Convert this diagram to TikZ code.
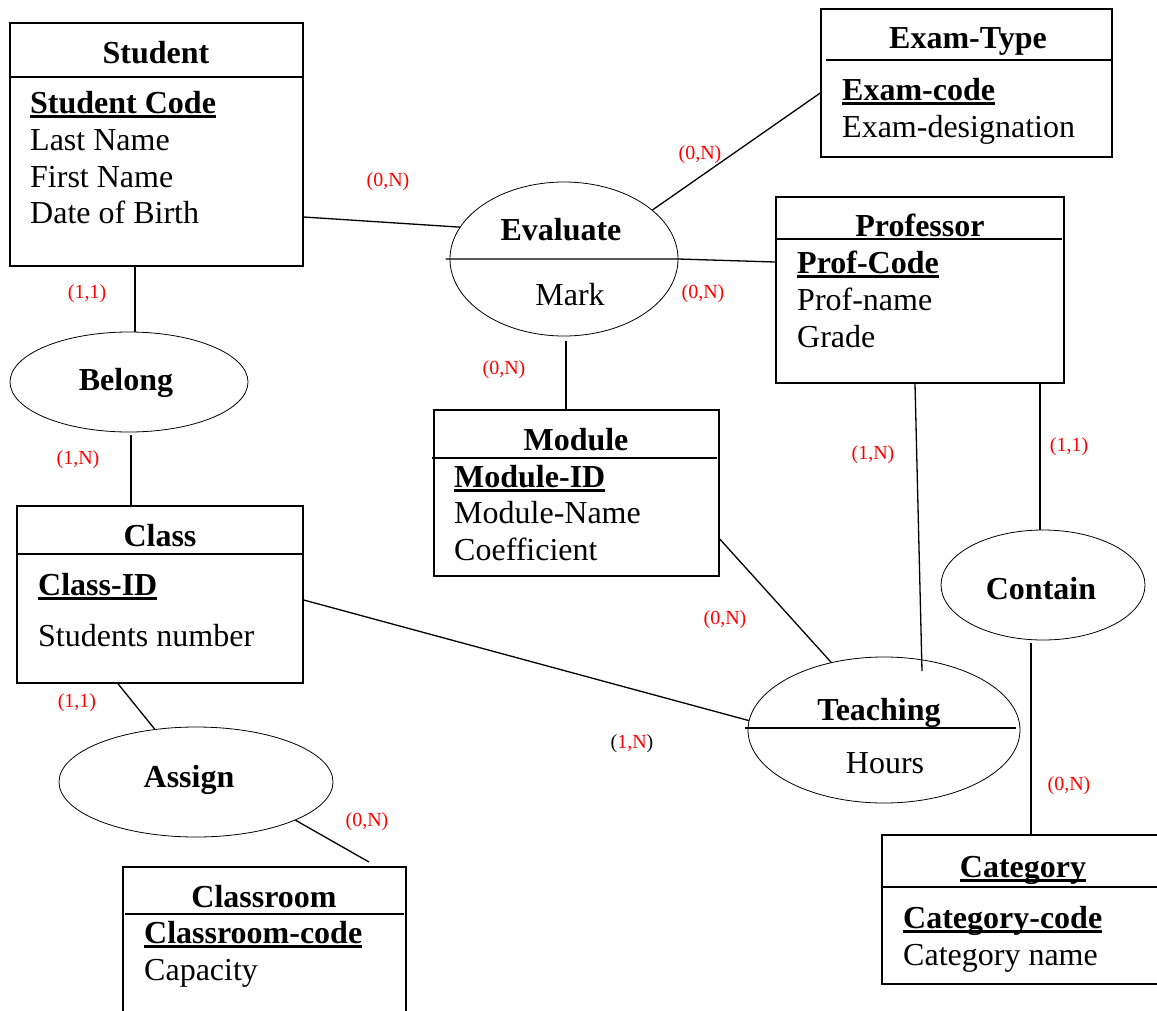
\documentclass[tikz,border=0pt]{standalone}
\usepackage{fontspec}
\setmainfont{Liberation Serif}
\usetikzlibrary{calc,shapes.geometric}

% underlined key attribute with a heavy rule
\newcommand\keyline[1]{\setbox0\hbox{#1}\rlap{\rule[-4.5pt]{\wd0}{2.6pt}}\box0}

\begin{document}
\begin{tikzpicture}[x=1pt,y=-1pt,
  entity/.style={draw, line width=1.5pt, rectangle, inner sep=0pt},
  relation/.style={draw, line width=0.8pt, ellipse, inner sep=0pt},
  hdr/.style={line width=1.5pt},
  link/.style={line width=1.3pt},
  title/.style={inner sep=0pt, anchor=base, font=\fontsize{32}{37}\selectfont\bfseries},
  attr/.style={inner sep=0pt, anchor=base west, font=\fontsize{32}{37}\selectfont},
  keyattr/.style={attr, font=\fontsize{32}{37}\selectfont\bfseries},
  rtext/.style={inner sep=0pt, anchor=base, font=\fontsize{32}{37}\selectfont},
  card/.style={inner sep=0pt, text=red, font=\fontsize{20}{22}\selectfont}
]
\useasboundingbox[fill=white] (0,0) rectangle (1157,1010);

% ---------- entities ----------
\node[entity, minimum width=293pt, minimum height=243pt] (student) at (156.5,144.5) {};
\draw[hdr] (student.west |- 0,77) -- (student.east |- 0,77);
\node[title] (studentT) at (156,63) {Student};
\node[keyattr] (studentA1) at (30,113) {\keyline{Student Code}};
\node[attr] (studentA2) at (30,150) {Last Name};
\node[attr] (studentA3) at (30,187) {First Name};
\node[attr] (studentA4) at (30,223) {Date of Birth};

\node[entity, minimum width=291pt, minimum height=148pt] (examtype) at (966.5,83) {};
\draw[hdr] (826,60) -- (1111,60);
\node[title] (examtypeT) at (968,48) {Exam-Type};
\node[keyattr] (examtypeA1) at (842,100) {\keyline{Exam-code}};
\node[attr] (examtypeA2) at (842,137) {Exam-designation};

\node[entity, minimum width=288pt, minimum height=186pt] (professor) at (920,290) {};
\draw[hdr] (777,239) -- (1062,239);
\node[title] (professorT) at (920,236) {Professor};
\node[keyattr] (professorA1) at (797,273) {\keyline{Prof-Code}};
\node[attr] (professorA2) at (797,310) {Prof-name};
\node[attr] (professorA3) at (797,347) {Grade};

\node[entity, minimum width=285pt, minimum height=166pt] (module) at (576.5,493) {};
\draw[hdr] (432,458) -- (717,458);
\node[title] (moduleT) at (576,450) {Module};
\node[keyattr] (moduleA1) at (454,487) {\keyline{Module-ID}};
\node[attr] (moduleA2) at (454,523) {Module-Name};
\node[attr] (moduleA3) at (454,560) {Coefficient};

\node[entity, minimum width=286pt, minimum height=177pt] (class) at (160,594.5) {};
\draw[hdr] (class.west |- 0,554) -- (class.east |- 0,554);
\node[title] (classT) at (160,546) {Class};
\node[keyattr] (classA1) at (38,595) {\keyline{Class-ID}};
\node[attr] (classA2) at (38,646) {Students number};

\node[entity, minimum width=283pt, minimum height=150pt] (classroom) at (264.5,942) {};
\draw[hdr] (125,914) -- (404,914);
\node[title] (classroomT) at (264,907) {Classroom};
\node[keyattr] (classroomA1) at (144,943) {\keyline{Classroom-code}};
\node[attr] (classroomA2) at (144,980) {Capacity};

\node[entity, minimum width=278pt, minimum height=149pt] (category) at (1021,909.5) {};
\draw[hdr] (category.west |- 0,887) -- (category.east |- 0,887);
\node[title] (categoryT) at (1023,877) {\keyline{Category}};
\node[keyattr] (categoryA1) at (903,928) {\keyline{Category-code}};
\node[attr] (categoryA2) at (903,965) {Category name};

% ---------- relationships ----------
\node[relation, minimum width=238pt, minimum height=100pt] (belong) at (129,382) {};
\node[title] (belongT) at (126,390) {Belong};

\node[relation, minimum width=228pt, minimum height=154pt] (evaluate) at (564,259) {};
\node[title] (evaluateT) at (561,240) {Evaluate};
\node[rtext] (evaluateA) at (570,305) {Mark};

\node[relation, minimum width=272pt, minimum height=146pt] (teaching) at (884,730) {};
\node[title] (teachingT) at (879,720) {Teaching};
\node[rtext] (teachingA) at (885,773) {Hours};
\draw[hdr] ([xshift=-3pt]teaching.west |- 0,728) -- ([xshift=-4pt]teaching.east |- 0,728);

\node[relation, minimum width=204pt, minimum height=110pt] (contain) at (1043,585) {};
\node[title] (containT) at (1041,599) {Contain};

\node[relation, minimum width=274pt, minimum height=110pt] (assign) at (196,782) {};
\node[title] (assignT) at (189,787) {Assign};

% ---------- connectors ----------
\draw[link] (student.east |- 0,217) -- (evaluate.163);
\draw[link] (evaluate.29) -- (examtype.west |- 0,93);
\draw[link] ([xshift=-4pt]evaluate.west) -- (evaluate.east) -- (professor.west |- 0,262);
\draw[link] (566,341) -- (module.north -| 566,0);
\draw[link] (student.south -| 135,0) -- (belong.north -| 135,0);
\draw[link] (131,435) -- (class.north -| 131,0);
\draw[link] (class.east |- 0,600) -- (teaching.176);
\draw[link] (module.east |- 0,539) -- (teaching.128);
\draw[link] (professor.south -| 915,0) -- ($(teaching.center)+(38,-59)$);
\draw[link] (professor.south -| 1040,0) -- (contain.north -| 1040,0);
\draw[link] (1031,643) -- (category.north -| 1031,-5);
\draw[link] (class.south -| 118,0) -- (assign.128);
\draw[link] (assign.-21) -- (369,862);

% ---------- cardinalities ----------
\node[card] (c1) at (388,182) {(0,N)};
\node[card] (c2) at (700,155) {(0,N)};
\node[card] (c3) at (87,294) {(1,1)};
\node[card] (c4) at (703,294) {(0,N)};
\node[card] (c5) at (504,370) {(0,N)};
\node[card] (c6) at (78,460) {(1,N)};
\node[card] (c7) at (873,455) {(1,N)};
\node[card] (c8) at (1069,447) {(1,1)};
\node[card] (c9) at (725,620) {(0,N)};
\node[card] (c10) at (632,744) {\textcolor{black}{(}1,N\textcolor{black}{)}};
\node[card] (c11) at (1069,786) {(0,N)};
\node[card] (c12) at (77,703) {(1,1)};
\node[card] (c13) at (367,822) {(0,N)};
\end{tikzpicture}
\end{document}
